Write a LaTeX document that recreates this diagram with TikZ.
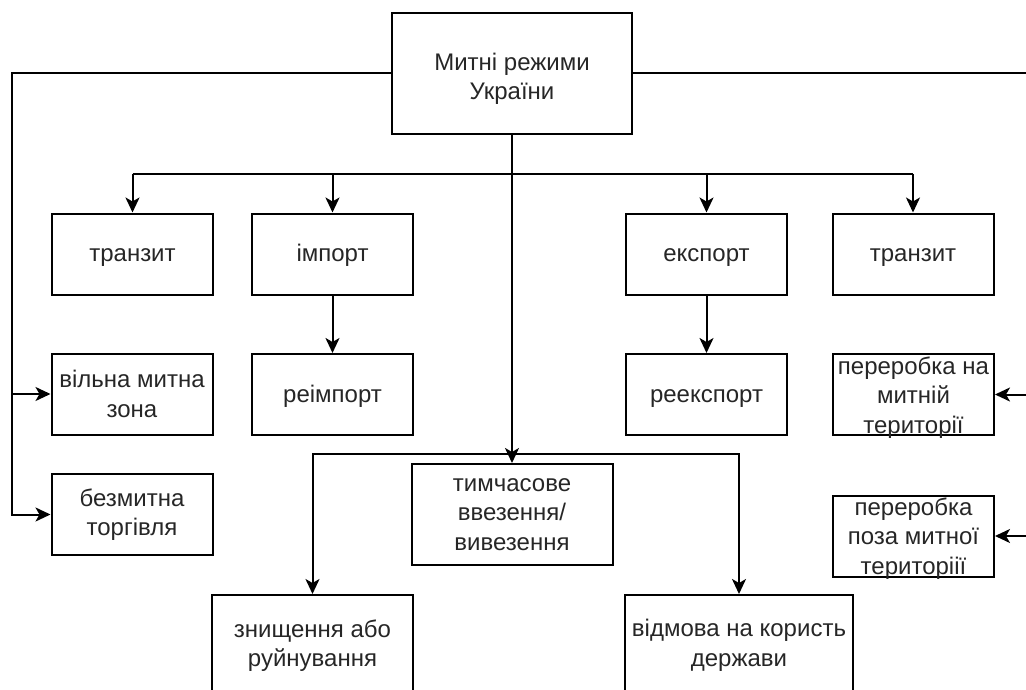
\documentclass[tikz,border=0pt]{standalone}
\usepackage{fontspec}
\setmainfont{Liberation Sans}
\usetikzlibrary{arrows.meta}

\tikzset{
	box/.style={draw, line width=2pt, minimum width=161pt, minimum height=81pt, inner sep=0pt, align=center, text=black!85, font=\fontsize{24}{29.5}\selectfont},
	one/.style={text height=15pt, text depth=0pt},
	txt/.style={inner sep=0pt, align=center, text=black!85, font=\fontsize{24}{29.5}\selectfont},
	arr/.style={-{Stealth[length=15pt,width=14pt,inset=4pt]}, line width=2pt},
}

\begin{document}
\begin{tikzpicture}[x=1pt,y=-1pt]
%	helplines
%	\draw[thin] (0,0) grid[step=50] (1026,690);
	\useasboundingbox (0,0) rectangle (1026,690);
	\clip (0,0) rectangle (1026,690);

	\node (main)[box, minimum width=240pt, minimum height=121pt] at (512,73.5) {};
	\node (maint)[txt] at (512,79) {Митні режими\\України};

	\node (tr1)[box, one] at (132.5,254) {транзит};
	\node (imp)[box, one] at (332.5,254) {імпорт};
	\node (exp)[box, one] at (706.5,254) {експорт};
	\node (tr2)[box, one] at (913,254) {транзит};

	\node (free)[box] at (132,394) {вільна митна\\зона};
	\node (dfree)[box] at (132,514.5) {безмитна\\торгівля};
	\node (reimp)[box, one] at (332.5,394.5) {реімпорт};
	\node (reexp)[box, one] at (706.5,394.5) {реекспорт};

	\node (proc1)[box] at (913.5,394.5) {};
	\node (proc1t)[txt] at (913.5,397.5) {переробка на\\митній\\території};
	\node (proc2)[box] at (913.5,536) {};
	\node (proc2t)[txt] at (913.5,538.5) {переробка\\поза митної\\територіії};

	\node (temp)[box, minimum width=201pt, minimum height=101pt] at (512,514.5) {тимчасове\\ввезення/\\вивезення};
	\node (destr)[box, minimum width=201pt, minimum height=101pt] at (312.5,645.5) {знищення або\\руйнування};
	\node (refuse)[box, minimum width=228pt, minimum height=101pt] at (739,645.5) {відмова на користь\\держави};

	% left and right branches
	\coordinate (lft) at (12,0);
	\coordinate (rgt) at (1034,0);
	\draw[arr] (main.west) -| (lft |- dfree.west) -- (dfree.west);
	\draw[arr] (lft |- free.west) -- (free.west);
	\draw[arr] (main.east) -| (rgt |- proc2.east) -- (proc2.east);
	\draw[arr] (rgt |- proc1.east) -- (proc1.east);

	% top row
	\coordinate (bus) at (512,174);
	\draw[line width=2pt] (tr1.north |- bus) -- (tr2.north |- bus);
	\foreach \n in {tr1,imp,exp,tr2}
		\draw[arr] (\n.north |- bus) -- (\n.north);
	\draw[arr] (imp.south) -- (reimp.north);
	\draw[arr] (exp.south) -- (reexp.north);

	% middle
	\draw[arr] (main.south) -- (temp.north);
	\coordinate (split) at (512,454);
	\draw[arr] (split) -| (destr.north);
	\draw[arr] (split) -| (refuse.north);

\end{tikzpicture}
\end{document}
